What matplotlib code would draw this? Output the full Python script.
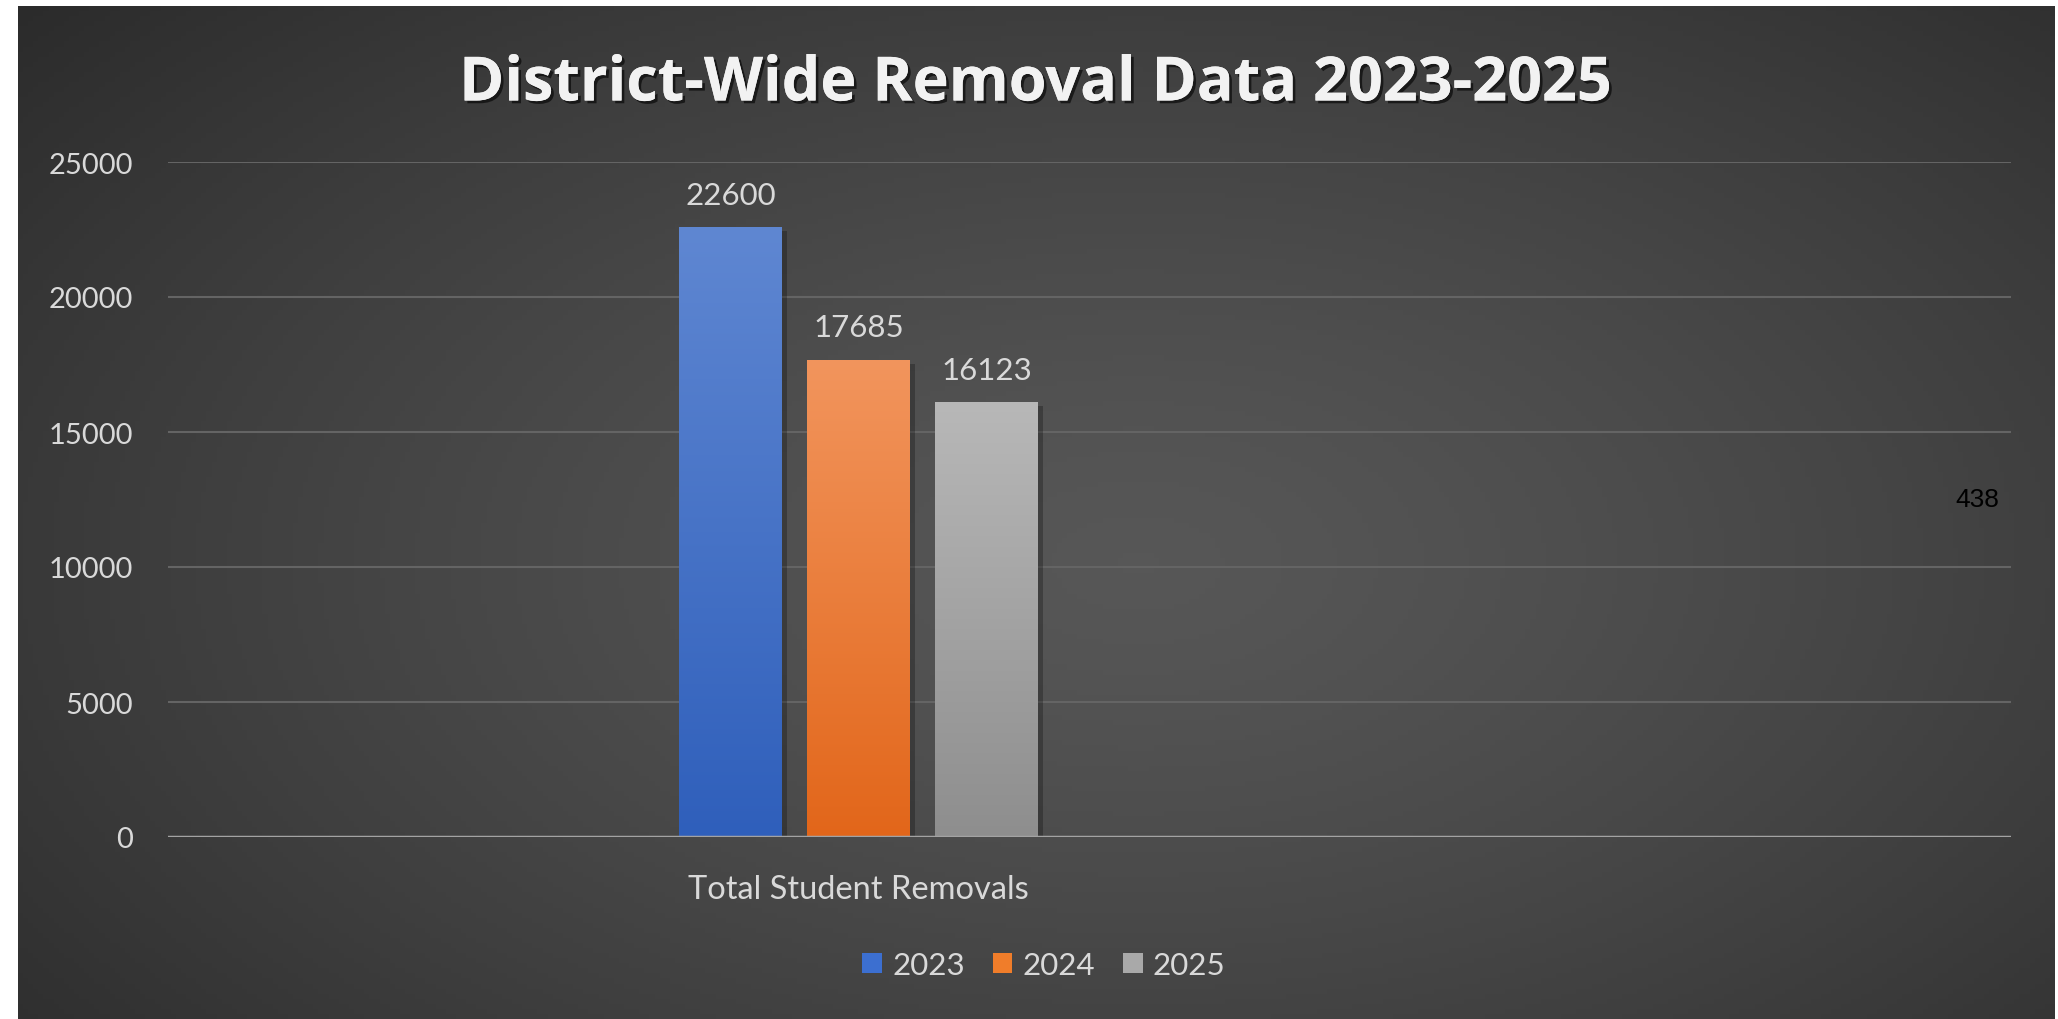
import numpy as np
import matplotlib
matplotlib.use("Agg")
import matplotlib.pyplot as plt
import matplotlib.patheffects as pe
from matplotlib.patches import Rectangle
from matplotlib.colors import LinearSegmentedColormap

# data
years = ["2023", "2024", "2025"]
removals = [22600, 17685, 16123]
category = "Total Student Removals"
y_ticks = [0, 5000, 10000, 15000, 20000, 25000]

# top / bottom colours of each bar gradient
bar_top = ["#5f87d2", "#f2955d", "#b8b8b8"]
bar_bottom = ["#2f5fbb", "#e2661a", "#8e8e8e"]
legend_colors = ["#3c6fd0", "#f07d2a", "#a9a9a9"]

W, H = 2058, 1020
fig = plt.figure(figsize=(W / 100, H / 100), dpi=100, facecolor="white")

# dark background panel with a soft radial light in the middle
bg = fig.add_axes([18 / W, 0, (2055 - 18) / W, (H - 7) / H])
bg.set_axis_off()
gx, gy = np.meshgrid(np.linspace(0, 1, 400), np.linspace(0, 1, 200))
r = np.sqrt(((gx - 0.55) / 0.75) ** 2 + ((gy - 0.45) / 0.85) ** 2)
r = np.clip(r, 0, 1) ** 1.3
bg_cmap = LinearSegmentedColormap.from_list("bg", ["#575757", "#2a2a2a"])
bg.imshow(r, cmap=bg_cmap, vmin=0, vmax=1, aspect="auto", extent=[0, 1, 0, 1], origin="lower")
bg.set_xlim(0, 1)
bg.set_ylim(0, 1)

# plot area
ax = fig.add_axes([168 / W, (H - 838) / H, (2011 - 168) / W, (838 - 163) / H])
ax.patch.set_alpha(0)
for s in ax.spines.values():
    s.set_visible(False)

step = 1.0
width = 0.8
xs = [(i - 1) * step for i in range(len(years))]

# gridlines
for t in y_ticks[1:]:
    ax.axhline(t, color="#646464", lw=1.5, zorder=1)

bars = ax.bar(xs, removals, width=width, color=legend_colors, zorder=3)

# shadows and vertical gradients on bars
grad = np.linspace(0, 1, 256).reshape(-1, 1)
for i, b in enumerate(bars):
    x0, w, h = b.get_x(), b.get_width(), b.get_height()
    sh = Rectangle((x0 + 0.04, 0), w, h - 150, facecolor="black", alpha=0.25, zorder=2, lw=0)
    ax.add_patch(sh)
    cm = LinearSegmentedColormap.from_list("b%d" % i, [bar_bottom[i], bar_top[i]])
    im = ax.imshow(grad, cmap=cm, aspect="auto", extent=[x0, x0 + w, 0, h], origin="lower", zorder=4)
    im.set_clip_path(b)
ax.set_xlim(-5.395, 9.004)
ax.set_ylim(0, 25000)

# baseline
ax.axhline(0, color="#a3a3a3", lw=2.5, zorder=5)

# value labels
for x, v in zip(xs, removals):
    ax.annotate(str(v), (x, v), xytext=(0, 13), textcoords="offset points",
                ha="center", va="bottom", fontsize=22.5, color="#d9d9d9", family="Lato", zorder=6)

ax.set_yticks(y_ticks)
ax.set_yticklabels([str(t) for t in y_ticks])
ax.set_xticks([0])
ax.set_xticklabels([category])
ax.tick_params(axis="y", length=0, pad=25, labelsize=21, labelcolor="#d9d9d9")
ax.tick_params(axis="x", length=0, pad=27, labelsize=23.5, labelcolor="#d9d9d9")
for lab in ax.get_xticklabels() + ax.get_yticklabels():
    lab.set_family("Lato")

# title
fig.text(1036 / W, 1 - 86 / H, "District-Wide Removal Data 2023-2025", ha="center", va="center",
         fontsize=44, fontweight="bold", color="#f2f2f2", family="Open Sans",
         path_effects=[pe.withSimplePatchShadow(offset=(2, -2), shadow_rgbFace="black", alpha=0.6), pe.Normal()])

# legend
handles = [Rectangle((0, 0), 1, 1, facecolor=c, lw=0) for c in legend_colors]
fig.legend(handles, years, loc="center", bbox_to_anchor=(1044 / W, 1 - 966 / H), ncol=3,
           frameon=False, prop={"family": "Lato", "size": 22.5}, labelcolor="#d9d9d9",
           handlelength=0.62, handleheight=0.6, handletextpad=0.33, columnspacing=0.9)

# page number
fig.text(1977 / W, 1 - 500 / H, "438", ha="center", va="center", fontsize=19, color="black",
         family="Liberation Sans")

fig.savefig("out.png", dpi=100, facecolor=fig.get_facecolor())
